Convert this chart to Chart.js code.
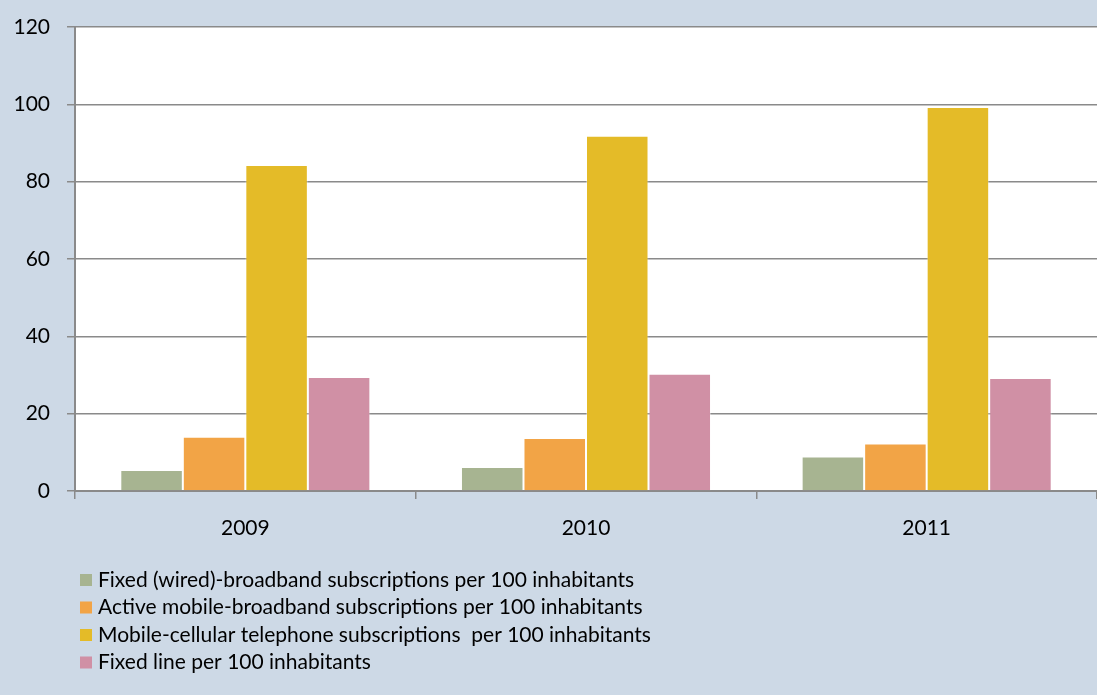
<!DOCTYPE html>
<html>
<head>
<meta charset="utf-8">
<script src="https://cdn.jsdelivr.net/npm/chart.js@4/dist/chart.umd.min.js"></script>
<style>
  html, body { margin: 0; padding: 0; background: #cdd9e6; overflow: hidden; }
  canvas { display: block; }
</style>
</head>
<body>
<canvas id="c" width="1097" height="695"></canvas>
<script>
// Subscriptions per 100 inhabitants, by year
const years = ['2009', '2010', '2011'];
const fixedBroadband = [5.4, 6.2, 8.9];
const mobileBroadband = [14.0, 13.7, 12.3];
const mobileCellular = [84.3, 91.9, 99.3];
const fixedLine = [29.5, 30.3, 29.2];

const seriesLabels = [
  'Fixed (wired)-broadband subscriptions per 100 inhabitants',
  'Active mobile-broadband subscriptions per 100 inhabitants',
  'Mobile-cellular telephone subscriptions  per 100 inhabitants',
  'Fixed line per 100 inhabitants'
];
const seriesColors = ['#a7b491', '#f2a446', '#e4bb28', '#d090a5'];
const yTicks = [0, 20, 40, 60, 80, 100, 120];

const FONT = 'Lato, "Open Sans", sans-serif';

// let the plot area run to the right edge of the canvas
const fillWidth = {
  id: 'fillWidth',
  afterLayout(chart) {
    const a = chart.chartArea;
    const xs = chart.scales.x;
    const gap = chart.width - a.right;
    if (gap > 0) {
      a.right += gap;
      a.width += gap;
      xs.right += gap;
      xs.width += gap;
      xs.configure();
    }
  }
};

// white plotting area
const plotBg = {
  id: 'plotBg',
  beforeDraw(chart) {
    const { ctx, chartArea: a } = chart;
    ctx.save();
    ctx.fillStyle = '#ffffff';
    ctx.fillRect(a.left, a.top, a.right - a.left, a.bottom - a.top);
    ctx.restore();
  }
};

// vertical legend under the axis
const stackedLegend = {
  id: 'stackedLegend',
  afterDraw(chart) {
    const ctx = chart.ctx;
    ctx.save();
    ctx.font = '21px ' + FONT;
    ctx.textBaseline = 'middle';
    chart.data.datasets.forEach((ds, i) => {
      const y = 580 + i * 27.5;
      ctx.fillStyle = ds.backgroundColor;
      ctx.fillRect(80, y - 6, 12, 12);
      ctx.fillStyle = '#000000';
      ctx.fillText(ds.label, 98, y);
    });
    ctx.restore();
  }
};

const values = [fixedBroadband, mobileBroadband, mobileCellular, fixedLine];

new Chart(document.getElementById('c'), {
  type: 'bar',
  data: {
    labels: years,
    datasets: values.map((v, i) => ({
      label: seriesLabels[i],
      data: v,
      backgroundColor: seriesColors[i],
      borderColor: 'rgba(255,255,255,0.35)',
      borderWidth: 1,
      categoryPercentage: 0.734,
      barPercentage: 1.0
    }))
  },
  options: {
    responsive: false,
    animation: false,
    layout: { autoPadding: false, padding: { top: 27, left: 0, right: 0, bottom: 0 } },
    plugins: {
      legend: { display: false },
      tooltip: { enabled: false }
    },
    scales: {
      x: {
        offset: true,
        grid: {
          offset: true,
          drawOnChartArea: false,
          drawTicks: true,
          tickLength: 8,
          color: '#8a8a8a',
          lineWidth: 1.5
        },
        border: { display: true, color: '#8a8a8a', width: 2 },
        ticks: {
          color: '#000000',
          font: { family: FONT, size: 21 },
          padding: 17
        },
        afterFit(scale) {
          scale.height = 204;
          scale.paddingLeft = 0;
          scale.paddingRight = 0;
        }
      },
      y: {
        min: 0,
        max: 120,
        afterBuildTicks(scale) { scale.ticks = yTicks.map(v => ({ value: v })); },
        grid: {
          color: '#8a8a8a',
          lineWidth: 1.5,
          drawTicks: true,
          tickLength: 8
        },
        border: { display: true, color: '#8a8a8a', width: 2 },
        ticks: {
          color: '#000000',
          font: { family: FONT, size: 21 },
          padding: 17
        },
        afterFit(scale) {
          scale.width = 75;
          scale.paddingTop = 0;
          scale.paddingBottom = 0;
        }
      }
    }
  },
  plugins: [fillWidth, plotBg, stackedLegend]
});
</script>
</body>
</html>
